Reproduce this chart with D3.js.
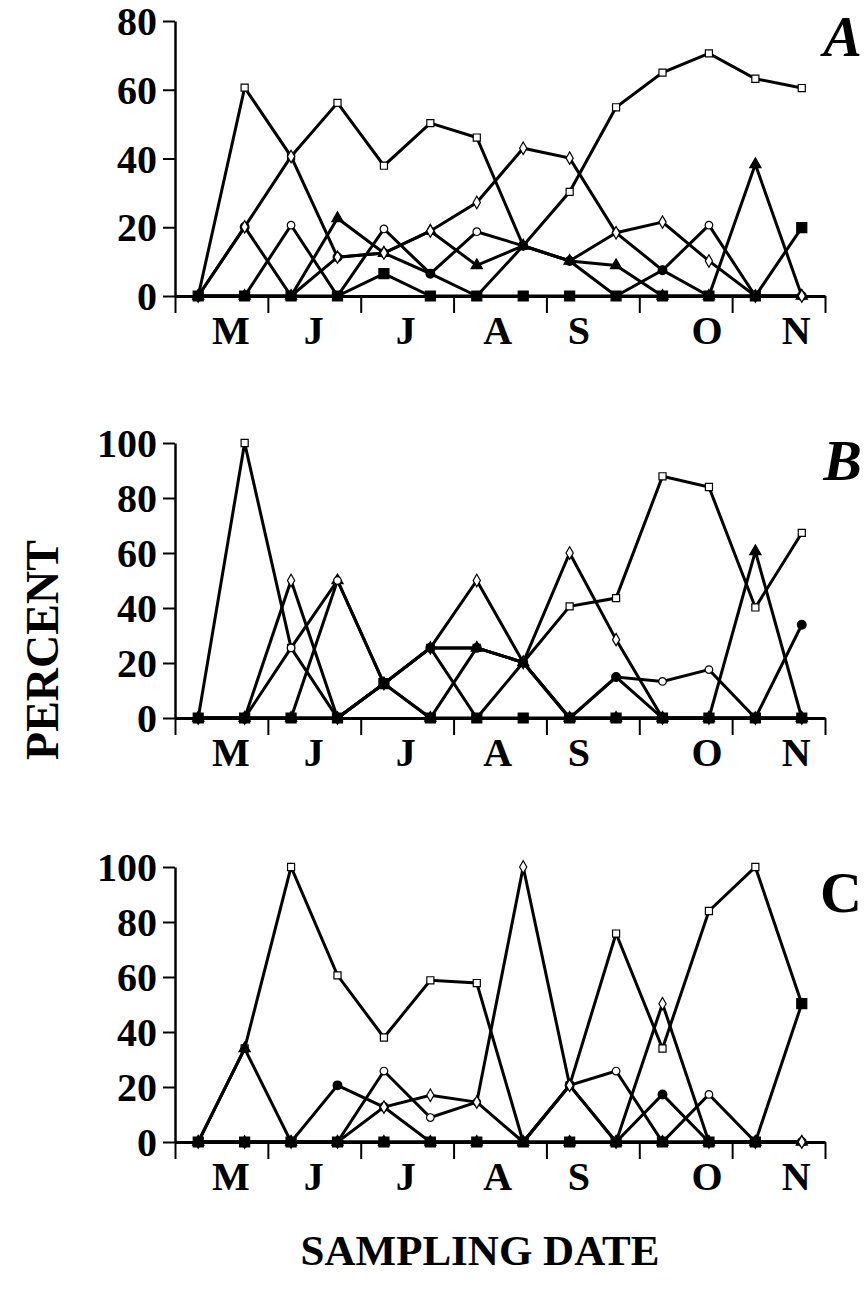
<!DOCTYPE html>
<html>
<head>
<meta charset="utf-8">
<script src="https://cdn.jsdelivr.net/npm/d3@7"></script>
<style>
  html, body { margin: 0; padding: 0; background: #fff; }
  svg { display: block; }
  text { font-family: "Liberation Serif", "Times New Roman", serif; font-weight: bold; fill: #000; }
</style>
</head>
<body>
<svg id="chart" width="865" height="1289"></svg>
<script>
// ---- data ----
const sampleIndex = [0,1,2,3,4,5,6,7,8,9,10,11,12,13];
const monthLabels = ["M","J","J","A","S","O","N"];
const monthPos = [0.69, 2.48, 4.46, 6.44, 8.19, 10.95, 12.87];
const xTickPos = [-0.5, 1.5, 3.5, 5.5, 7.5, 9.5, 11.5, 13.5];
const yTicksA = [0, 20, 40, 60, 80];
const yTicksBC = [0, 20, 40, 60, 80, 100];

// Panel A
const A_square   = [0, 60.6, 40.6, 56.2, 37.9, 50.3, 46.1, 14.6, 30.3, 54.9, 65.0, 70.6, 63.2, 60.5];
const A_diamond  = [0, 20.1, 40.6, 11.3, 12.5, 18.9, 27.2, 43.0, 40.1, 18.4, 21.5, 10.2, 0, 0];
const A_circle   = [0, 0, 20.6, 0, 19.5, 6.5, 18.7, 14.6, 10.2, 18.4, 7.5, 20.6, 0, 0];
const A_triangle = [0, 0, 0, 22.6, 12.5, 18.9, 8.9, 14.6, 10.2, 8.9, 0, 0, 38.3, 0];
const A_fcircle  = [0, 20.1, 0, 11.3, 12.5, 6.5, 0, 14.6, 10.2, 0, 7.5, 0, 0, 0];
const A_fsquare  = [0, 0, 0, 0, 6.5, 0, 0, 0, 0, 0, 0, 0, 0, 19.9];

// Panel B
const B_square   = [0, 100, 25.5, 0, 12.5, 25.5, 25.5, 20.2, 40.6, 43.6, 87.9, 84.0, 40.2, 67.3];
const B_diamond  = [0, 0, 50, 0, 12.5, 25.5, 50, 20.2, 60.0, 28.5, 0, 0, 0, 0];
const B_circle   = [0, 0, 25.5, 50, 12.5, 25.5, 0, 20.2, 0, 14.9, 13.3, 17.6, 0, 0];
const B_triangle = [0, 0, 0, 50, 12.5, 0, 25.5, 20.2, 0, 0, 0, 0, 60.6, 0];
const B_fcircle  = [0, 0, 0, 0, 12.5, 25.5, 25.5, 20.2, 0, 14.9, 0, 0, 0, 33.9];
const B_fsquare  = [0, 0, 0, 0, 12.5, 0, 0, 0, 0, 0, 0, 0, 0, 0];

// Panel C
const C_square   = [0, 34.0, 100, 60.6, 38.0, 58.8, 57.8, 0, 20.6, 75.8, 34.0, 84.0, 100, 50.3];
const C_diamond  = [0, 0, 0, 0, 12.7, 17.0, 14.5, 100, 20.6, 0, 50.3, 0, 0, 0];
const C_circle   = [0, 0, 0, 0, 25.8, 8.9, 14.5, 0, 20.6, 25.8, 0, 17.3, 0, 0];
const C_triangle = [0, 34.0, 0, 0, 0, 0, 0, 0, 0, 0, 0, 0, 0, 0];
const C_fcircle  = [0, 0, 0, 20.6, 12.7, 0, 0, 0, 20.6, 0, 17.3, 0, 0, 0];
const C_fsquare  = [0, 0, 0, 0, 0, 0, 0, 0, 0, 0, 0, 0, 0, 50.3];

// ---- layout ----
const svg = d3.select("#chart");
const x = d3.scaleLinear().domain([-0.5, 13.5]).range([175, 825]);

const panels = [
  { label: "A", italic: true,  top: 21,  bottom: 296, max: 80,  ticks: yTicksA,
    series: { square: A_square, diamond: A_diamond, circle: A_circle, triangle: A_triangle, fcircle: A_fcircle, fsquare: A_fsquare },
    order: ["square","triangle","circle","fcircle","diamond","fsquare"], labelY: 56 },
  { label: "B", italic: true,  top: 443, bottom: 718, max: 100, ticks: yTicksBC,
    series: { square: B_square, diamond: B_diamond, circle: B_circle, triangle: B_triangle, fcircle: B_fcircle, fsquare: B_fsquare },
    order: ["square","triangle","circle","diamond","fcircle","fsquare"], labelY: 480 },
  { label: "C", italic: false, top: 867, bottom: 1142, max: 100, ticks: yTicksBC,
    series: { square: C_square, diamond: C_diamond, circle: C_circle, triangle: C_triangle, fcircle: C_fcircle, fsquare: C_fsquare },
    order: ["square","triangle","circle","fcircle","diamond","fsquare"], labelY: 912 }
];

const markerDef = {
  square:   { type: d3.symbolSquare,   size: 50,  fill: "#fff" },
  diamond:  { type: d3.symbolDiamond,  size: 45,  fill: "#fff" },
  circle:   { type: d3.symbolCircle,   size: 45,  fill: "#fff" },
  triangle: { type: d3.symbolTriangle, size: 55,  fill: "#000" },
  fcircle:  { type: d3.symbolCircle,   size: 60,  fill: "#000" },
  fsquare:  { type: d3.symbolSquare,   size: 100, fill: "#000" }
};

panels.forEach(p => {
  const y = d3.scaleLinear().domain([0, p.max]).range([p.bottom, p.top]);
  const g = svg.append("g");

  // y axis
  const yAxis = d3.axisLeft(y).tickValues(p.ticks).tickSize(12).tickSizeOuter(0).tickPadding(6);
  const ya = g.append("g").attr("transform", `translate(175,0)`).call(yAxis);
  ya.select(".domain").attr("stroke", "#000").attr("stroke-width", 2.5);
  ya.selectAll(".tick line").attr("stroke", "#000").attr("stroke-width", 2);
  ya.selectAll(".tick text").attr("font-size", 40).attr("font-family", "Liberation Serif, serif")
    .attr("font-weight", "bold").attr("dy", "0.34em").attr("x", -18);

  // x axis with tick marks
  const xAxis = d3.axisBottom(x).tickValues(xTickPos).tickSize(17).tickSizeOuter(0).tickFormat("");
  const xa = g.append("g").attr("transform", `translate(0,${p.bottom})`).call(xAxis);
  xa.select(".domain").attr("stroke", "#000").attr("stroke-width", 3);
  xa.selectAll(".tick line").attr("stroke", "#000").attr("stroke-width", 2);

  // month labels
  const mAxis = d3.axisBottom(x).tickValues(monthPos).tickSize(0).tickPadding(20)
    .tickFormat((d, i) => monthLabels[i]);
  const ma = g.append("g").attr("transform", `translate(0,${p.bottom})`).call(mAxis);
  ma.select(".domain").remove();
  ma.selectAll(".tick text").attr("font-size", 40).attr("font-family", "Liberation Serif, serif")
    .attr("font-weight", "bold");

  // lines
  const line = d3.line().x((d, i) => x(sampleIndex[i])).y(d => y(d));
  p.order.forEach(k => {
    g.append("path").datum(p.series[k]).attr("d", line)
      .attr("fill", "none").attr("stroke", "#000").attr("stroke-width", 3)
      .attr("stroke-linejoin", "miter");
  });

  // markers
  p.order.forEach(k => {
    const m = markerDef[k];
    const sym = d3.symbol().type(m.type).size(m.size);
    g.append("g").selectAll("path").data(p.series[k]).join("path")
      .attr("d", sym)
      .attr("transform", (d, i) => `translate(${x(sampleIndex[i])},${y(d)})`)
      .attr("fill", m.fill).attr("stroke", "#000").attr("stroke-width", 1.2);
  });

  // panel label
  g.append("text").attr("x", 862).attr("y", p.labelY).attr("text-anchor", "end")
    .attr("font-size", 58).attr("font-style", p.italic ? "italic" : "normal").text(p.label);
});

svg.append("text").attr("transform", "translate(58,650) rotate(-90)")
  .attr("text-anchor", "middle").attr("font-size", 46).text("PERCENT");
svg.append("text").attr("x", 480).attr("y", 1265).attr("text-anchor", "middle")
  .attr("font-size", 43).text("SAMPLING DATE");
</script>
</body>
</html>
